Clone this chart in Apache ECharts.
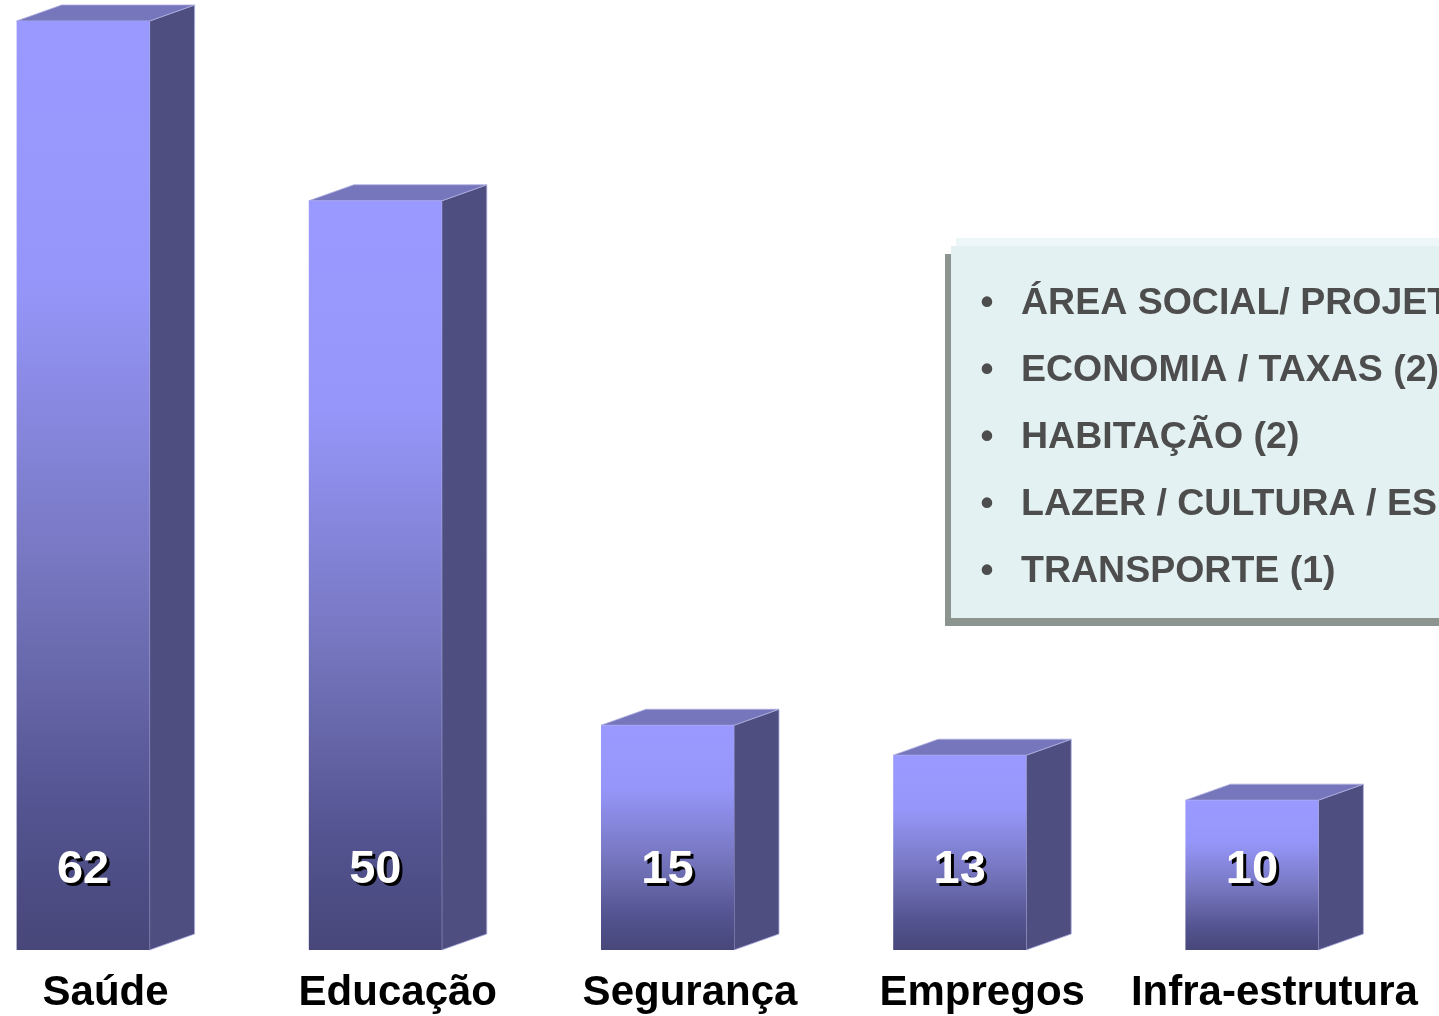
<!DOCTYPE html>
<html>
<head>
<meta charset="utf-8">
<script src="https://cdn.jsdelivr.net/npm/echarts@6/dist/echarts.min.js"></script>
<style>
html,body{margin:0;padding:0;background:#fff;}
#chart{width:1439px;height:1016px;}
</style>
</head>
<body>
<div id="chart"></div>
<script>
const categories = ['Saúde', 'Educação', 'Segurança', 'Empregos', 'Infra-estrutura'];
const values = [62, 50, 15, 13, 10];
const boxItems = [
  'ÁREA SOCIAL/ PROJETOS SOCIAIS (2)',
  'ECONOMIA / TAXAS (2)',
  'HABITAÇÃO (2)',
  'LAZER / CULTURA / ESPORTE (2)',
  'TRANSPORTE (1)'
];

const chart = echarts.init(document.getElementById('chart'), null, {renderer: 'canvas'});
const FONT = '"Liberation Sans", Arial, sans-serif';

const boxGraphics = [
  {type: 'rect', shape: {x: 956, y: 238, width: 600, height: 20}, style: {fill: '#EEF7F7'}, z: 1},
  {type: 'rect', shape: {x: 945, y: 254, width: 600, height: 372}, style: {fill: '#8C9490'}, z: 1},
  {type: 'rect', shape: {x: 951, y: 246, width: 600, height: 372}, style: {fill: '#E3F1F2'}, z: 2}
];
boxItems.forEach((t, i) => {
  const y = 304 + i * 67;
  boxGraphics.push({type: 'text', x: 987, y: y, z: 3,
    style: {text: '•', fill: '#4D4D4D', font: 'bold 37px ' + FONT, textAlign: 'center', textVerticalAlign: 'middle'}});
  boxGraphics.push({type: 'text', x: 1021, y: y, z: 3,
    style: {text: t, fill: '#4D4D4D', font: 'bold 37.5px ' + FONT, textAlign: 'left', textVerticalAlign: 'middle'}});
});

const W = 133, DX = 45, DY = 16;

chart.setOption({
  backgroundColor: '#ffffff',
  animation: false,
  grid: {left: -63, right: 41, top: 0, bottom: 66, outerBoundsMode: 'none', containLabel: false},
  xAxis: {
    type: 'category',
    data: categories,
    axisLine: {show: false},
    axisTick: {show: false},
    axisLabel: {
      interval: 0,
      margin: 22,
      hideOverlap: false,
      color: '#000',
      fontFamily: FONT,
      fontWeight: 'bold',
      fontSize: 42,
      padding: [0, 0, 0, 45]
    }
  },
  yAxis: {type: 'value', min: 0, max: 63.4, show: false, splitLine: {show: false}},
  graphic: boxGraphics,
  series: [{
    type: 'custom',
    data: values.map((v, i) => [i, v]),
    encode: {x: 0, y: 1},
    renderItem: function (params, api) {
      const top = api.coord([api.value(0), api.value(1)]);
      const base = api.coord([api.value(0), 0]);
      const xl = top[0] - W / 2, xr = top[0] + W / 2, yt = top[1], yb = base[1];
      const grad = new echarts.graphic.LinearGradient(0, 0, 0, 1, [
        {offset: 0, color: '#9999FF'},
        {offset: 0.28, color: '#9696FA'},
        {offset: 0.6, color: '#7575BE'},
        {offset: 0.85, color: '#535390'},
        {offset: 1, color: '#47477A'}
      ]);
      const label = String(api.value(1));
      const tStyle = {font: 'bold 47px ' + FONT, textAlign: 'center', textVerticalAlign: 'middle'};
      return {
        type: 'group',
        children: [
          {type: 'polygon', shape: {points: [[xr, yt], [xr + DX, yt - DY], [xr + DX, yb - DY], [xr, yb]]},
            style: {fill: '#4E4E80', stroke: 'rgba(175,175,225,0.8)', lineWidth: 1}},
          {type: 'polygon', shape: {points: [[xl, yt], [xl + DX, yt - DY], [xr + DX, yt - DY], [xr, yt]]},
            style: {fill: '#7676BC', stroke: 'rgba(175,175,225,0.8)', lineWidth: 1}},
          {type: 'rect', shape: {x: xl, y: yt, width: W, height: yb - yt}, style: {fill: grad}},
          {type: 'text', x: top[0] + 3, y: yb - 80 + 3,
            style: Object.assign({text: label, fill: '#000'}, tStyle)},
          {type: 'text', x: top[0], y: yb - 80,
            style: Object.assign({text: label, fill: '#fff'}, tStyle)}
        ]
      };
    }
  }]
});
</script>
</body>
</html>
